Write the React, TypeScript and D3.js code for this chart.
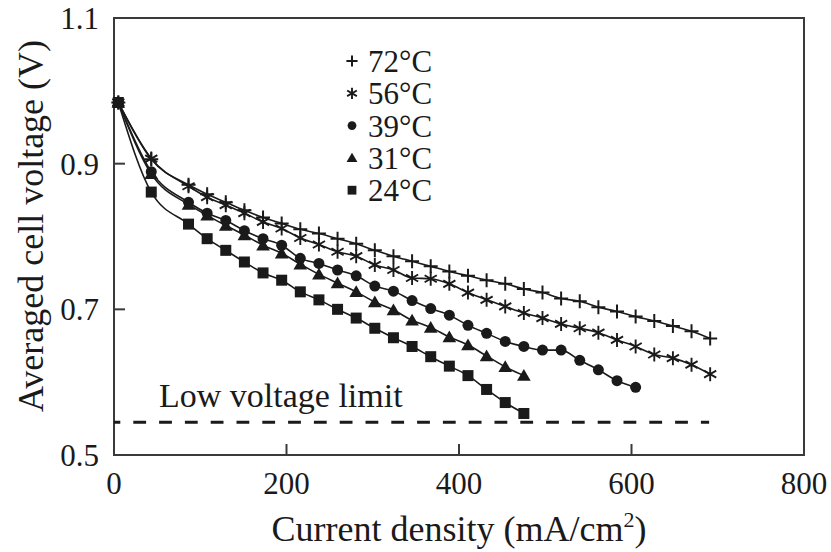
import React from "react";
import * as d3 from "d3";

const currentDensity = [5, 43.2, 86.4, 108, 129.6, 151.2, 172.8, 194.4, 216, 237.6, 259.2, 280.8, 302.4, 324, 345.6, 367.2, 388.8, 410.4, 432, 453.6, 475.2, 496.8, 518.4, 540, 561.6, 583.2, 604.8, 626.4, 648, 669.6, 691.2];

const v72 = [0.984, 0.906, 0.871, 0.858, 0.847, 0.836, 0.826, 0.818, 0.810, 0.804, 0.797, 0.790, 0.781, 0.773, 0.766, 0.759, 0.752, 0.746, 0.740, 0.735, 0.728, 0.723, 0.715, 0.711, 0.703, 0.697, 0.690, 0.684, 0.677, 0.670, 0.660];
const v56 = [0.984, 0.907, 0.869, 0.854, 0.843, 0.832, 0.820, 0.811, 0.798, 0.789, 0.779, 0.773, 0.761, 0.754, 0.743, 0.742, 0.735, 0.723, 0.713, 0.704, 0.695, 0.688, 0.680, 0.674, 0.668, 0.658, 0.649, 0.638, 0.633, 0.624, 0.611];
const v39 = [0.984, 0.889, 0.847, 0.832, 0.822, 0.808, 0.797, 0.788, 0.770, 0.763, 0.754, 0.746, 0.732, 0.725, 0.712, 0.701, 0.692, 0.678, 0.667, 0.656, 0.649, 0.644, 0.644, 0.630, 0.617, 0.602, 0.593];
const v31 = [0.984, 0.886, 0.844, 0.829, 0.815, 0.802, 0.788, 0.777, 0.762, 0.748, 0.736, 0.724, 0.710, 0.699, 0.685, 0.675, 0.662, 0.651, 0.636, 0.621, 0.609];
const v24 = [0.984, 0.861, 0.817, 0.797, 0.781, 0.765, 0.750, 0.740, 0.724, 0.713, 0.700, 0.688, 0.674, 0.661, 0.649, 0.635, 0.622, 0.609, 0.590, 0.572, 0.557];

const seriesLabels = ["72°C", "56°C", "39°C", "31°C", "24°C"];
const seriesMarkers = ["plus", "star", "circle", "triangle", "square"];
const seriesValues = [v72, v56, v39, v31, v24];

const xTicks = [0, 200, 400, 600, 800];
const yTicks = [0.5, 0.7, 0.9, 1.1];
const lowVoltageLimit = 0.545;
const lowVoltageRange = [0, 690];

const W = 831, H = 552;
const M = { left: 114, right: 804, top: 18, bottom: 455 };
const FONT = "'Liberation Serif', 'Times New Roman', serif";
const INK = "#1a1a1a";

function Marker({ type, x, y, s = 1 }: { type: string; x: number; y: number; s?: number }) {
  if (type === "plus") {
    const h = 7 * s;
    return <path d={`M${x - h},${y}H${x + h}M${x},${y - h}V${y + h}`} stroke={INK} strokeWidth={2} fill="none" />;
  }
  if (type === "star") {
    const h = 7 * s;
    const dx = h * Math.cos(Math.PI / 6), dy = h * Math.sin(Math.PI / 6);
    return <path d={`M${x},${y - h}V${y + h}M${x - dx},${y - dy}L${x + dx},${y + dy}M${x - dx},${y + dy}L${x + dx},${y - dy}`} stroke={INK} strokeWidth={1.9} fill="none" />;
  }
  if (type === "circle") return <circle cx={x} cy={y} r={5.5 * s} fill={INK} />;
  if (type === "triangle") {
    const h = 6.5 * s;
    return <path d={`M${x},${y - h}L${x + h * 1.05},${y + h * 0.8}L${x - h * 1.05},${y + h * 0.8}Z`} fill={INK} />;
  }
  const h = 5.5 * s;
  return <rect x={x - h} y={y - h} width={2 * h} height={2 * h} fill={INK} />;
}

export default function App() {
  const x = d3.scaleLinear().domain([0, 800]).range([M.left, M.right]);
  const y = d3.scaleLinear().domain([0.5, 1.1]).range([M.bottom, M.top]);
  const line = d3.line<[number, number]>().x(d => x(d[0])).y(d => y(d[1])).curve(d3.curveMonotoneX);

  return (
    <svg width={W} height={H} style={{ position: "absolute", left: 0, top: 0, background: "#fff" }} fontFamily={FONT}>
      <rect x={0} y={0} width={W} height={H} fill="#fff" />
      <rect x={M.left} y={M.top} width={M.right - M.left} height={M.bottom - M.top} fill="none" stroke="#3a3a3a" strokeWidth={2} />
      {xTicks.map(t => (
        <g key={"x" + t}>
          {t > 0 && t < 800 && <line x1={x(t)} x2={x(t)} y1={M.bottom} y2={M.bottom - 11} stroke="#3a3a3a" strokeWidth={2} />}
          <text x={x(t)} y={494} textAnchor="middle" fontSize={31} fill={INK}>{t}</text>
        </g>
      ))}
      {yTicks.map(t => (
        <g key={"y" + t}>
          {t > 0.5 && t < 1.1 && <line x1={M.left} x2={M.left + 11} y1={y(t)} y2={y(t)} stroke="#3a3a3a" strokeWidth={2} />}
          <text x={99} y={y(t) + 11} textAnchor="end" fontSize={31} fill={INK}>{t.toFixed(1)}</text>
        </g>
      ))}
      <text x={(M.left + M.right) / 2} y={541} textAnchor="middle" fontSize={36} fill={INK}>
        Current density (mA/cm<tspan fontSize={22} dy={-14}>2</tspan><tspan dy={14}>)</tspan>
      </text>
      <text transform={`translate(43,${226}) rotate(-90)`} textAnchor="middle" fontSize={36} fill={INK}>Averaged cell voltage (V)</text>

      <line x1={x(lowVoltageRange[0])} x2={x(lowVoltageRange[1])} y1={y(lowVoltageLimit)} y2={y(lowVoltageLimit)} stroke={INK} strokeWidth={3} strokeDasharray="12.8 13" strokeDashoffset={6.5} />
      <text x={159} y={407} fontSize={34} fill={INK}>Low voltage limit</text>

      {seriesValues.map((vals, i) => {
        const pts: [number, number][] = vals.map((v, j) => [currentDensity[j], v]);
        return (
          <g key={seriesLabels[i]}>
            <path d={line(pts) || ""} fill="none" stroke={INK} strokeWidth={1.6} />
            {pts.map((p, j) => <Marker key={j} type={seriesMarkers[i]} x={x(p[0])} y={y(p[1])} />)}
          </g>
        );
      })}

      {seriesLabels.map((lab, i) => {
        const cy = 61 + i * 32.3;
        return (
          <g key={"lg" + lab}>
            <Marker type={seriesMarkers[i]} x={352} y={cy} s={0.8} />
            <text x={368} y={cy + 11} fontSize={31} fill={INK}>{lab}</text>
          </g>
        );
      })}
    </svg>
  );
}
